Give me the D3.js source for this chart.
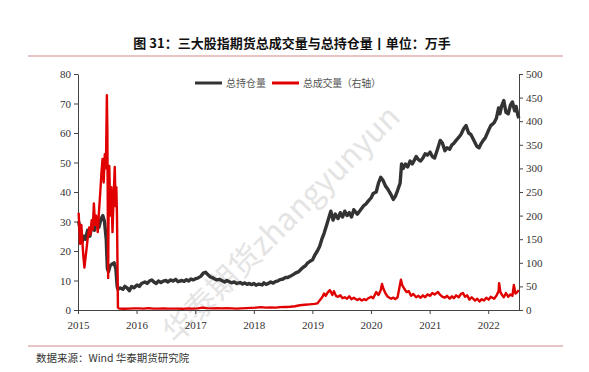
<!DOCTYPE html>
<html>
<head>
<meta charset="utf-8">
<script src="https://cdn.jsdelivr.net/npm/d3@7"></script>
<style>
  body { margin: 0; background: #fff; }
</style>
</head>
<body>
<div id="chart"></div>
<script>

// open interest (left axis, 万手)
var oiDates = ["2015-01-05","2015-01-15","2015-01-26","2015-02-06","2015-02-16","2015-03-02","2015-03-16","2015-03-30","2015-04-13","2015-04-27","2015-05-11","2015-05-25","2015-06-05","2015-06-15","2015-06-26","2015-07-03","2015-07-10","2015-07-20","2015-07-31","2015-08-14","2015-08-25","2015-09-02","2015-09-07","2015-09-21","2015-10-08","2015-10-20","2015-11-03","2015-11-17","2015-12-01","2015-12-15",
  "2016-01-04","2016-01-18","2016-02-01","2016-02-22","2016-03-07","2016-03-21","2016-04-05","2016-04-18","2016-05-03","2016-05-16","2016-06-01","2016-06-15","2016-07-01","2016-07-15","2016-08-01","2016-08-15","2016-09-01","2016-09-15","2016-10-10","2016-10-24","2016-11-07","2016-11-21","2016-12-05","2016-12-19",
  "2017-01-03","2017-01-16","2017-02-06","2017-02-20","2017-03-06","2017-03-20","2017-04-05","2017-04-17","2017-05-02","2017-05-15","2017-06-01","2017-06-15","2017-07-03","2017-07-17","2017-08-01","2017-08-15","2017-09-01","2017-09-15","2017-10-09","2017-10-23","2017-11-06","2017-11-20","2017-12-04","2017-12-18",
  "2018-01-02","2018-01-15","2018-02-01","2018-02-22","2018-03-05","2018-03-19","2018-04-02","2018-04-16","2018-05-02","2018-05-15","2018-06-01","2018-06-15","2018-07-02","2018-07-16","2018-08-01","2018-08-15","2018-09-03","2018-09-17","2018-10-08","2018-10-22","2018-11-05","2018-11-19","2018-12-03","2018-12-17",
  "2019-01-02","2019-01-15","2019-02-01","2019-02-15","2019-03-01","2019-03-15","2019-04-01","2019-04-15","2019-04-26","2019-05-10","2019-05-24","2019-06-10","2019-06-24","2019-07-08","2019-07-22","2019-08-05","2019-08-19","2019-09-02","2019-09-16","2019-10-08","2019-10-22","2019-11-05","2019-11-19","2019-12-02","2019-12-16",
  "2020-01-02","2020-01-15","2020-02-03","2020-02-17","2020-03-02","2020-03-16","2020-04-01","2020-04-15","2020-05-06","2020-05-20","2020-06-01","2020-06-15","2020-07-01","2020-07-10","2020-07-20","2020-08-03","2020-08-17","2020-09-01","2020-09-15","2020-10-09","2020-10-23","2020-11-06","2020-11-20","2020-12-04","2020-12-18",
  "2021-01-04","2021-01-18","2021-02-01","2021-02-22","2021-03-08","2021-03-22","2021-04-06","2021-04-19","2021-05-06","2021-05-20","2021-06-01","2021-06-15","2021-07-01","2021-07-15","2021-08-02","2021-08-16","2021-09-01","2021-09-15","2021-10-08","2021-10-22","2021-11-05","2021-11-19","2021-12-01","2021-12-15",
  "2022-01-04","2022-01-17","2022-02-07","2022-02-21","2022-03-07","2022-03-15","2022-03-25","2022-04-08","2022-04-22","2022-05-06","2022-05-20","2022-06-01","2022-06-15","2022-06-24","2022-07-05","2022-07-11"];
var oiValues = [30,27,23,25,24,27,25,29,27,30,28,31,32,30,24,14,13,15,15.5,16,14,8,7,7.5,7,8,7.5,6.5,8,7.5,
  8.5,8,9,9.5,9,9.8,10.2,9.5,9,9.8,9.3,9.8,10,9.5,10.2,9.8,10.4,9.6,10,9.7,10.3,9.8,10.5,10.2,
  10.6,10.8,11.5,12.5,12.8,12,11.2,11,10.5,10.2,10.4,10,9.5,10,9.6,9.2,9.5,9,9.3,8.8,9.2,8.7,9,8.6,
  9,8.4,8.8,8.5,9.2,8.7,9,9.5,9.1,9.6,9.9,10.3,10.5,11,11,11.4,12,12.5,13,13.8,14.5,15,16,16.5,
  17,18.5,20,21.5,24,26,29,31.5,33.5,30.5,32.5,31,33,31.5,33.5,32,33,31.5,34,32.5,33.5,34.5,35.5,36,37,
  38,39.5,40,43,45,44,42,41,39,37.5,38.5,40.5,43,49.5,48,49.5,48.5,50.5,49.5,52,51,50.5,51.5,53,52.5,
  53.5,52,51.5,55,57.5,56.5,54,55,54.5,56,56.5,57.5,58.5,59.5,61.5,62.5,60,59.5,57,55.5,55,56.5,57.5,58.5,
  61,62.5,63.5,65,68.5,66.5,69,71,67,66.5,69.5,70.5,67.5,69,66,65];

// volume (right axis, 万手)
var volDates = ["2015-01-05","2015-01-14","2015-01-22","2015-02-02","2015-02-10","2015-02-20","2015-03-02","2015-03-12","2015-03-20","2015-03-27","2015-04-03","2015-04-10","2015-04-17","2015-04-24","2015-05-04","2015-05-12","2015-05-20","2015-05-27","2015-06-03","2015-06-10","2015-06-17","2015-06-24","2015-06-30","2015-07-03","2015-07-08","2015-07-10","2015-07-15","2015-07-22","2015-07-28","2015-08-04","2015-08-11","2015-08-18","2015-08-24","2015-08-28","2015-09-01","2015-09-07","2015-09-15","2015-10-15","2015-11-15","2015-12-15",
  "2016-01-15","2016-02-15","2016-03-15","2016-04-15","2016-05-15","2016-06-15","2016-07-15","2016-08-15","2016-09-15","2016-10-15","2016-11-15","2016-12-15",
  "2017-01-15","2017-02-15","2017-03-15","2017-04-15","2017-05-15","2017-06-15","2017-07-15","2017-08-15","2017-09-15","2017-10-15","2017-11-15","2017-12-15",
  "2018-01-15","2018-02-15","2018-03-15","2018-04-15","2018-05-15","2018-06-15","2018-07-15","2018-08-15","2018-09-15","2018-10-15","2018-11-15","2018-12-15",
  "2019-01-15","2019-02-01","2019-02-20","2019-03-05","2019-03-15","2019-03-25","2019-04-08","2019-04-20","2019-05-06","2019-05-15","2019-05-28","2019-06-10","2019-06-24","2019-07-08","2019-07-22","2019-08-05","2019-08-19","2019-09-02","2019-09-16","2019-10-08","2019-10-22","2019-11-05","2019-11-19","2019-12-02","2019-12-16",
  "2020-01-02","2020-01-15","2020-02-03","2020-02-17","2020-03-02","2020-03-10","2020-03-20","2020-04-01","2020-04-15","2020-05-06","2020-05-20","2020-06-01","2020-06-15","2020-07-06","2020-07-15","2020-07-27","2020-08-10","2020-08-24","2020-09-07","2020-09-21","2020-10-09","2020-10-23","2020-11-06","2020-11-20","2020-12-04","2020-12-18",
  "2021-01-04","2021-01-18","2021-02-01","2021-02-22","2021-03-08","2021-03-22","2021-04-06","2021-04-19","2021-05-06","2021-05-20","2021-06-01","2021-06-15","2021-07-01","2021-07-15","2021-07-28","2021-08-09","2021-08-23","2021-09-06","2021-09-20","2021-10-11","2021-10-25","2021-11-08","2021-11-22","2021-12-06","2021-12-20",
  "2022-01-04","2022-01-17","2022-02-07","2022-02-21","2022-03-07","2022-03-10","2022-03-18","2022-03-28","2022-04-08","2022-04-22","2022-05-06","2022-05-20","2022-06-01","2022-06-10","2022-06-20","2022-07-01","2022-07-11"];
var volValues = [206,140,180,120,90,120,150,175,160,190,170,226,180,200,165,210,250,290,320,270,330,300,455,380,68,180,305,200,260,165,240,303,220,260,200,5,3,2.5,3,3.5,
  3.5,3,4,3,3,3.5,3,3,3,2.5,3.5,3,
  3.5,5,4,3.5,4,3.5,4,3.5,3,3.5,4,4.5,
  5,6,5,5.5,5,6,6.5,7,8,10,11,12,
  13,14,22,28,35,30,38,42,32,40,30,28,31,25,27,24,29,23,26,21,24,20,23,21,25,
  28,25,38,32,42,55,44,35,28,24,26,23,27,64,52,45,38,40,30,34,27,30,26,31,27,33,
  30,36,33,38,32,28,26,30,24,29,25,31,27,34,36,28,31,22,27,20,24,18,23,20,26,
  22,28,24,30,40,57,38,32,27,36,28,33,30,53,35,38,42];

var leftTicks = [0,10,20,30,40,50,60,70,80];
var rightTicks = [0,50,100,150,200,250,300,350,400,450,500];
var yearTicks = ["2015","2016","2017","2018","2019","2020","2021","2022"];

var title = "图 31：三大股指期货总成交量与总持仓量丨单位：万手";
var legendNames = ["总持仓量", "总成交量（右轴）"];
var source = "数据来源：Wind 华泰期货研究院";

// setup params
var W = 589, H = 372;
var margin = {top: 74, right: 70, bottom: 62, left: 78},
    width = W - margin.left - margin.right,
    height = H - margin.top - margin.bottom;

var serif = "'Liberation Serif', 'DejaVu Serif', serif";

var parse = d3.timeParse("%Y-%m-%d");
var oi = oiDates.map(function(d, i) { return {date: parse(d), v: oiValues[i]}; });
var vol = volDates.map(function(d, i) { return {date: parse(d), v: volValues[i]}; });

var svg = d3.select("#chart")
  .append("svg")
    .attr("width", W)
    .attr("height", H)
    .style("font-family", "'Noto Sans CJK SC', sans-serif");

// title + rules
svg.append("text")
  .attr("x", 292).attr("y", 48)
  .attr("text-anchor", "middle")
  .style("font-size", "13px")
  .style("font-weight", "bold")
  .attr("fill", "#111")
  .text(title);

svg.append("line")
  .attr("x1", 28).attr("x2", 563).attr("y1", 56).attr("y2", 56)
  .attr("stroke", "#d48a8a").attr("stroke-width", 1.2);

svg.append("line")
  .attr("x1", 28).attr("x2", 563).attr("y1", 346).attr("y2", 346)
  .attr("stroke", "#d48a8a").attr("stroke-width", 1.2);

svg.append("text")
  .attr("x", 36).attr("y", 362)
  .style("font-size", "10.5px")
  .attr("fill", "#333")
  .text(source);

// watermark
svg.append("text")
  .attr("transform", "translate(283,226) rotate(-45)")
  .attr("text-anchor", "middle")
  .attr("dominant-baseline", "middle")
  .style("font-size", "31px")
  .attr("fill", "#e4e4e4")
  .text("华泰期货zhangyunyun");

var g = svg.append("g")
  .attr("transform", "translate(" + margin.left + "," + margin.top + ")");

// scales
var x = d3.scaleTime()
  .domain([parse("2015-01-01"), parse("2022-07-12")])
  .range([0, width]);
var yL = d3.scaleLinear().domain([0, 80]).range([height, 0]);
var yR = d3.scaleLinear().domain([0, 500]).range([height, 0]);

// axes
var xAxis = g.append("g")
  .attr("transform", "translate(0," + height + ")")
  .call(d3.axisBottom(x)
    .tickValues(yearTicks.map(function(d) { return parse(d + "-01-01"); }))
    .tickFormat(d3.timeFormat("%Y"))
    .tickSizeOuter(0).tickSizeInner(4));

g.append("g")
  .call(d3.axisLeft(yL).tickValues(leftTicks).tickSizeOuter(0).tickSizeInner(4));

g.append("g")
  .attr("transform", "translate(" + width + ",0)")
  .call(d3.axisRight(yR).tickValues(rightTicks).tickSizeOuter(0).tickSizeInner(4));

g.selectAll(".domain, .tick line").attr("stroke", "#444");
g.selectAll(".tick text")
  .style("font-family", serif)
  .style("font-size", "11px")
  .attr("fill", "#333");
xAxis.selectAll(".tick text").attr("dy", "1.1em");

// lines
g.append("path")
  .datum(oi)
  .attr("fill", "none")
  .attr("stroke", "#333")
  .attr("stroke-width", 3.4)
  .attr("stroke-linejoin", "round")
  .attr("d", d3.line()
    .x(function(d) { return x(d.date); })
    .y(function(d) { return yL(d.v); }));

g.append("path")
  .datum(vol)
  .attr("fill", "none")
  .attr("stroke", "#e00000")
  .attr("stroke-width", 2.4)
  .attr("stroke-linejoin", "round")
  .attr("d", d3.line()
    .x(function(d) { return x(d.date); })
    .y(function(d) { return yR(d.v); }));

// legend
var legend = svg.append("g").attr("transform", "translate(195,83)");
var colors = ["#333", "#e00000"];
var lx = [0, 77];
var lw = [40, 78];
legendNames.forEach(function(name, i) {
  legend.append("line")
    .attr("x1", lx[i]).attr("x2", lx[i] + 27)
    .attr("stroke", colors[i]).attr("stroke-width", 3);
  legend.append("text")
    .attr("x", lx[i] + 31).attr("y", 3.5)
    .attr("textLength", lw[i])
    .attr("lengthAdjust", "spacing")
    .style("font-size", "10px")
    .attr("fill", "#555")
    .text(name);
});

</script>
</body>
</html>
